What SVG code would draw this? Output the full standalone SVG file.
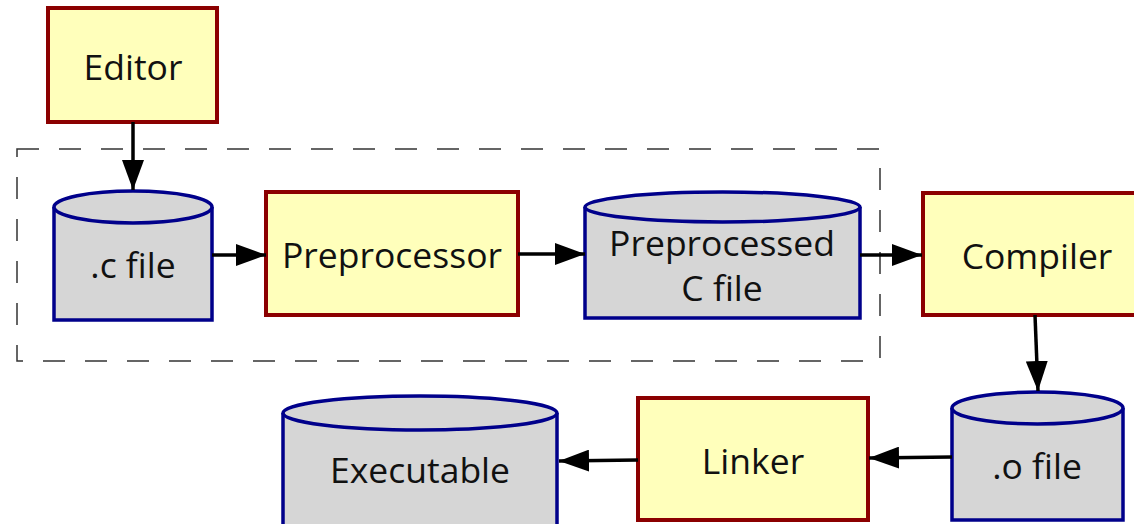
<svg xmlns="http://www.w3.org/2000/svg" width="1134" height="524" viewBox="0 0 1134 524">
<style>
.proc{fill:#ffffbb;stroke:#8b0000;stroke-width:4}
.data{fill:#d6d6d6;stroke:#00008b;stroke-width:3.5}
.lbl{font-family:"Open Sans","DejaVu Sans",sans-serif;font-size:35.5px;fill:#111;text-anchor:middle}
.conn{stroke:#000;stroke-width:3.5;fill:none;marker-end:url(#arr)}
.group{fill:none;stroke:#333;stroke-width:1.5;stroke-dasharray:22 20}
</style>
<defs>
<marker id="arr" markerWidth="30" markerHeight="22" refX="30" refY="11" orient="auto" markerUnits="userSpaceOnUse">
<path d="M0,0 L30,11 L0,22 Z" fill="#000"/>
</marker>
</defs>
<rect width="1134" height="524" fill="#fff"/>
<g id="group-box"><rect class="group" x="17" y="149" width="863" height="212"/></g>
<g id="editor">
<rect class="proc" x="48" y="8" width="169" height="114"/>
<text class="lbl" x="133" y="80">Editor</text>
</g>
<g id="cfile">
<path class="data" d="M54,207 V320 H212 V207"/>
<ellipse class="data" cx="133" cy="207" rx="79" ry="16"/>
<text class="lbl" x="133" y="278">.c file</text>
</g>
<g id="preprocessor">
<rect class="proc" x="266" y="192" width="252" height="123"/>
<text class="lbl" x="392" y="268">Preprocessor</text>
</g>
<g id="preprocessed">
<path class="data" d="M585,207 V318 H860 V207"/>
<ellipse class="data" cx="722.5" cy="207" rx="137.5" ry="15"/>
<text class="lbl" x="722" y="256">Preprocessed</text>
<text class="lbl" x="722" y="301">C file</text>
</g>
<g id="compiler">
<rect class="proc" x="923" y="193" width="240" height="122"/>
<text class="lbl" x="1037" y="269">Compiler</text>
</g>
<g id="ofile">
<path class="data" d="M952,408 V520 H1123 V408"/>
<ellipse class="data" cx="1037.5" cy="408" rx="85.5" ry="16"/>
<text class="lbl" x="1037" y="479">.o file</text>
</g>
<g id="linker">
<rect class="proc" x="638" y="398" width="230" height="122"/>
<text class="lbl" x="753" y="474">Linker</text>
</g>
<g id="executable">
<path class="data" d="M283,413 V530 H557 V413"/>
<ellipse class="data" cx="420" cy="413" rx="137" ry="17"/>
<text class="lbl" x="420" y="483">Executable</text>
</g>
<g id="connectors">
<line class="conn" x1="133" y1="122" x2="133" y2="190"/>
<line class="conn" x1="212" y1="255" x2="266" y2="255"/>
<line class="conn" x1="518" y1="254" x2="585" y2="254"/>
<line class="conn" x1="860" y1="255" x2="922" y2="255"/>
<line class="conn" x1="1035" y1="315" x2="1038" y2="391"/>
<line class="conn" x1="952" y1="457" x2="869" y2="458"/>
<line class="conn" x1="638" y1="460" x2="559" y2="461"/>
</g>
</svg>
